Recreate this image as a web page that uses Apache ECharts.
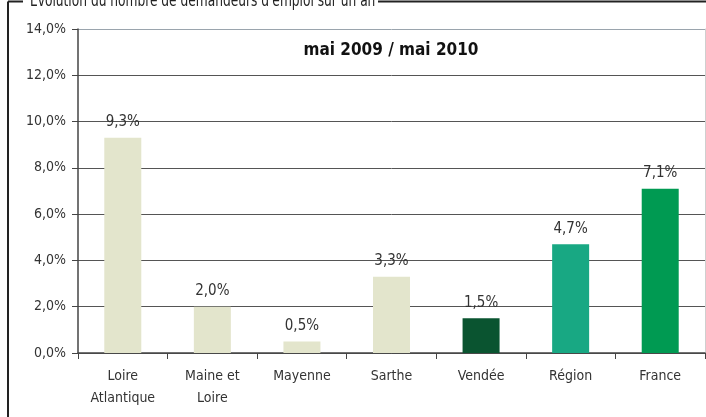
<!DOCTYPE html>
<html>
<head>
<meta charset="utf-8">
<script src="https://cdn.jsdelivr.net/npm/echarts@6/dist/echarts.min.js"></script>
<style>
  html, body { margin: 0; padding: 0; background: #fff; }
  #chart { width: 706px; height: 417px; }
</style>
</head>
<body>
<div id="chart"></div>
<script>
// catégories et valeurs (%)
var categories = ['Loire\nAtlantique', 'Maine et\nLoire', 'Mayenne', 'Sarthe', 'Vendée', 'Région', 'France'];
var values = [9.3, 2.0, 0.5, 3.3, 1.5, 4.7, 7.1];
var barColors = ['#e3e5cc', '#e3e5cc', '#e3e5cc', '#e3e5cc', '#0a5430', '#18a883', '#009a52'];
var yTicks = [0, 2, 4, 6, 8, 10, 12, 14];

var font = '"DejaVu Sans Condensed", "DejaVu Sans", sans-serif';

function pct(v, d) {
    return v.toFixed(d).replace('.', ',') + '%';
}

var chart = echarts.init(document.getElementById('chart'));
chart.setOption({
    animation: false,
    backgroundColor: '#fff',
    textStyle: { fontFamily: font },
    grid: { left: 78, right: 1, top: 29, bottom: 64 },
    title: {
        text: 'mai 2009 / mai 2010',
        left: 386, top: 37, textAlign: 'center',
        textStyle: { fontFamily: font, fontSize: 17, fontWeight: 'bold', color: '#111' }
    },
    xAxis: {
        type: 'category',
        data: categories,
        axisLine: { lineStyle: { color: '#444', width: 1.5 } },
        axisTick: { show: true, length: 6, lineStyle: { color: '#444' } },
        axisLabel: { color: '#333', fontSize: 14, lineHeight: 22, margin: 12, interval: 0 }
    },
    yAxis: [{
        type: 'value',
        min: yTicks[0],
        max: yTicks[yTicks.length - 1],
        interval: 2,
        axisLine: { show: true, lineStyle: { color: '#444', width: 1.5 } },
        axisTick: { show: true, length: 6, lineStyle: { color: '#444' } },
        axisLabel: { color: '#333', fontSize: 14, margin: 12, formatter: function (v) { return pct(v, 1); } },
        splitLine: { lineStyle: { color: ['#555', '#555', '#555', '#555', '#555', '#555', '#555', '#9aa4ad'], width: 1 } }
    }, {
        type: 'value',
        position: 'right',
        min: yTicks[0],
        max: yTicks[yTicks.length - 1],
        interval: 2,
        axisLine: { show: true, lineStyle: { color: '#cfcfcf', width: 1 } },
        axisTick: { show: false },
        axisLabel: { show: false },
        splitLine: { show: false }
    }],
    graphic: [
        { type: 'line', shape: { x1: 8, y1: 1.5, x2: 8, y2: 417 }, style: { stroke: '#222', lineWidth: 2 } },
        { type: 'line', shape: { x1: 8, y1: 1.5, x2: 23, y2: 1.5 }, style: { stroke: '#222', lineWidth: 2 } },
        { type: 'line', shape: { x1: 378, y1: 1.5, x2: 706, y2: 1.5 }, style: { stroke: '#222', lineWidth: 2 } },
        // titre du cadre, un peu resserré
        { type: 'text', x: 30, y: -8, scaleX: 0.755, style: { text: 'Evolution du nombre de demandeurs d\'emploi sur un an', fontFamily: font, fontSize: 18, fill: '#222' } }
    ],
    series: [{
        type: 'bar',
        barWidth: 37,
        data: values.map(function (v, i) {
            return { value: v, itemStyle: { color: barColors[i] } };
        }),
        label: {
            show: true,
            position: 'top',
            distance: 8,
            color: '#333',
            fontSize: 15,
            formatter: function (p) { return pct(p.value, 1); }
        }
    }]
});
</script>
</body>
</html>
